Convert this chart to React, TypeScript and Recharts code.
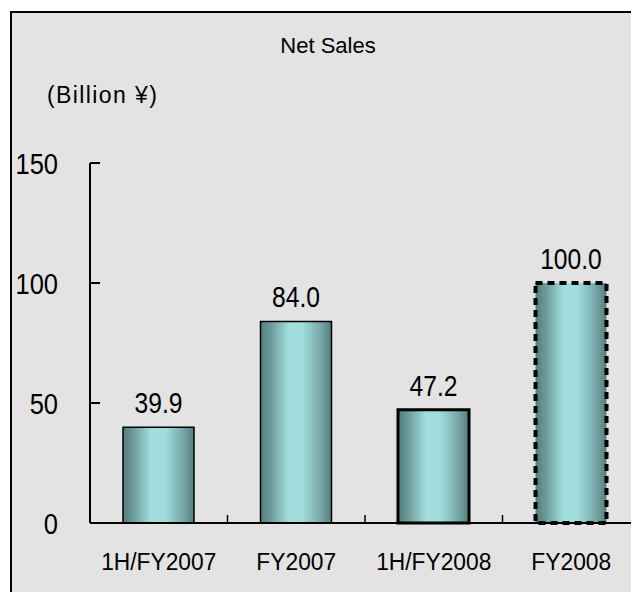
import React from "react";
import { BarChart, Bar, XAxis, YAxis, Cell, LabelList } from "recharts";

const periods = ["1H/FY2007", "FY2007", "1H/FY2008", "FY2008"];
const netSales = [39.9, 84.0, 47.2, 100.0];
const yTicks = [0, 50, 100, 150];

const chartData = periods.map((period, i) => ({ period, sales: netSales[i] }));

const FONT = '"Liberation Sans", Arial, sans-serif';
// the original glyphs are tall and narrow, squeeze them a bit
const NARROW = 0.85;

// outline per bar: results thin, 1H/FY2008 heavy, FY2008 forecast dashed
const outlines = [
  { stroke: "#000", strokeWidth: 1.5 },
  { stroke: "#000", strokeWidth: 1.5 },
  { stroke: "#000", strokeWidth: 3 },
  { stroke: "#000", strokeWidth: 4, strokeDasharray: "7 5" },
];

function PeriodTick(props: any) {
  const { x, y, payload } = props;
  const half = payload.offset ?? 68.75;
  return (
    <g>
      {/* small upward tick on the category boundary */}
      <line
        x1={x + half}
        x2={x + half}
        y1={y}
        y2={y - 8}
        stroke="#000"
        strokeWidth={1.5}
      />
      <text
        transform={`translate(${x},${y + 47}) scale(0.95,1)`}
        textAnchor="middle"
        fontSize={24}
        fontFamily={FONT}
        fill="#000"
      >
        {payload.value}
      </text>
    </g>
  );
}

function ValueTick(props: any) {
  const { x, y, payload } = props;
  return (
    <text
      transform={`translate(${x},${y}) scale(${NARROW},1)`}
      textAnchor="end"
      dy="0.36em"
      fontSize={30}
      fontFamily={FONT}
      fill="#000"
    >
      {payload.value}
    </text>
  );
}

function BarValue(props: any) {
  const { x, y, width, value } = props;
  return (
    <text
      transform={`translate(${Number(x) + Number(width) / 2},${Number(y) - 14}) scale(${NARROW},1)`}
      textAnchor="middle"
      fontSize={29}
      fontFamily={FONT}
      fill="#000"
    >
      {Number(value).toFixed(1)}
    </text>
  );
}

export default function App() {
  return (
    <div
      style={{
        position: "fixed",
        left: 10,
        top: 11,
        width: 619,
        height: 579,
        borderTop: "2px solid #000",
        borderLeft: "2px solid #000",
        background: "#e3e3e3",
        overflow: "hidden",
      }}
    >
      <BarChart
        width={640}
        height={579}
        data={chartData}
        margin={{ top: 150, right: 12, bottom: 0, left: 0 }}
      >
        <defs>
          <linearGradient id="barFill" x1="0" y1="0" x2="1" y2="0">
            <stop offset="0%" stopColor="#527d7c" />
            <stop offset="15%" stopColor="#6e9c9b" />
            <stop offset="40%" stopColor="#a3dfdf" />
            <stop offset="60%" stopColor="#a0dcdc" />
            <stop offset="85%" stopColor="#76a6a6" />
            <stop offset="100%" stopColor="#557d7d" />
          </linearGradient>
        </defs>
        <XAxis
          dataKey="period"
          height={69}
          axisLine={{ stroke: "#000", strokeWidth: 2 }}
          tickLine={false}
          tickSize={0}
          tickMargin={0}
          interval={0}
          tick={<PeriodTick />}
        />
        <YAxis
          width={78}
          domain={[0, 150]}
          ticks={yTicks}
          interval={0}
          axisLine={{ stroke: "#000", strokeWidth: 2 }}
          tickLine={{ stroke: "#000", strokeWidth: 2 }}
          tickSize={-10}
          tickMargin={42}
          tick={<ValueTick />}
        />
        <Bar
          dataKey="sales"
          barSize={71}
          fill="url(#barFill)"
          isAnimationActive={false}
        >
          {chartData.map((d, i) => (
            <Cell key={d.period} fill="url(#barFill)" {...outlines[i]} />
          ))}
          <LabelList dataKey="sales" content={<BarValue />} />
        </Bar>
      </BarChart>
      <svg
        width={619}
        height={579}
        style={{ position: "absolute", left: 0, top: 0, pointerEvents: "none" }}
      >
        <text
          x={316}
          y={40}
          textAnchor="middle"
          fontSize={22}
          fontFamily={FONT}
          fill="#000"
        >
          Net Sales
        </text>
        <text
          x={35}
          y={90}
          fontSize={23}
          letterSpacing={1.4}
          fontFamily={FONT}
          fill="#000"
        >
          (Billion ¥)
        </text>
      </svg>
    </div>
  );
}
